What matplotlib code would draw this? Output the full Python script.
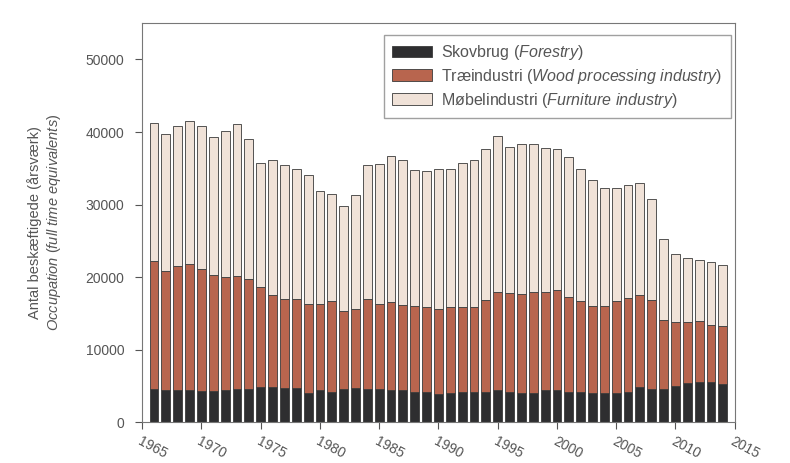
import numpy as np
import matplotlib
matplotlib.use('Agg')
import matplotlib.pyplot as plt

plt.rcParams['font.family'] = ['Liberation Sans', 'DejaVu Sans']
plt.rcParams['mathtext.fontset'] = 'custom'
plt.rcParams['mathtext.rm'] = 'Liberation Sans'
plt.rcParams['mathtext.it'] = 'Liberation Sans:italic'

# Beskæftigelse (årsværk) 1966-2014
years = list(range(1966, 2015))
skovbrug = [4630, 4490, 4540, 4490, 4350, 4400, 4490, 4670, 4670, 4860,
            4860, 4770, 4770, 4120, 4490, 4220, 4630, 4720, 4580, 4670,
            4490, 4490, 4210, 4210, 3940, 4120, 4210, 4210, 4260, 4490,
            4210, 4120, 4030, 4450, 4490, 4260, 4170, 4030, 4030, 4120,
            4210, 4950, 4630, 4580, 5080, 5410, 5550, 5530, 5320]
traeindustri = [17580, 16340, 16980, 17360, 16850, 15970, 15560, 15470, 15110, 13760,
                12650, 12290, 12290, 12250, 11840, 12470, 10770, 10960, 12440, 11660,
                12060, 11640, 11780, 11650, 11740, 11790, 11650, 11700, 12660, 13490,
                13640, 13630, 13950, 13530, 13710, 13030, 12520, 11960, 11960, 12570,
                12940, 12660, 12190, 9580, 8700, 8370, 8380, 7940, 7910]
moebelindustri = [19020, 18970, 19330, 19610, 19650, 18960, 20110, 20950, 19240, 17180,
                  18650, 18410, 17820, 17680, 15550, 14830, 14410, 15650, 18410, 19330,
                  20160, 19990, 18750, 18780, 19290, 18970, 19940, 20210, 20720, 21410,
                  20110, 20670, 20440, 19890, 19530, 19340, 18190, 17370, 16360, 15560,
                  15560, 15330, 13910, 11050, 9490, 8900, 8510, 8600, 8430]

labels = [r'Skovbrug ($\it{Forestry}$)',
          r'Træindustri ($\it{Wood\ processing\ industry}$)',
          r'Møbelindustri ($\it{Furniture\ industry}$)']
colors = ['#2e2e30', '#b8654e', '#f0e2d8']
txt = '#555555'

fig = plt.figure(figsize=(7.9, 4.63), dpi=100)
ax = fig.add_axes([0.18, 0.0875, 0.75, 0.8625])

bottom = np.zeros(len(years))
for vals, lab, col in zip([skovbrug, traeindustri, moebelindustri], labels, colors):
    ax.bar(years, vals, width=0.75, bottom=bottom, color=col, edgecolor='#3a3a3a',
           linewidth=0.6, label=lab)
    bottom += np.array(vals)

ax.set_xlim(1965, 2015)
ax.set_ylim(0, 55000)
ax.set_xticks(range(1965, 2016, 5))
ax.set_yticks(range(0, 50001, 10000))
for lbl in ax.get_xticklabels():
    lbl.set_rotation(-28)
    lbl.set_ha('left')
    lbl.set_rotation_mode('anchor')
ax.tick_params(colors=txt, labelsize=10, direction='out', length=5)
ax.tick_params(axis='y', pad=8)
for sp in ax.spines.values():
    sp.set_color('#777777')
    sp.set_linewidth(0.8)

ax.set_ylabel('Antal beskæftigede (årsværk)\n' + r'$\it{Occupation\ (full\ time\ equivalents)}$',
              fontsize=10.5, color=txt, labelpad=16)

leg = ax.legend(loc='upper right', bbox_to_anchor=(0.993, 0.97), borderaxespad=0,
                fontsize=11.5, frameon=True, fancybox=False, edgecolor='#888888',
                handlelength=2.5, handleheight=0.75, labelspacing=0.3, borderpad=0.5,
                handletextpad=0.6)
for t in leg.get_texts():
    t.set_color(txt)

fig.savefig('out.png', dpi=100)
